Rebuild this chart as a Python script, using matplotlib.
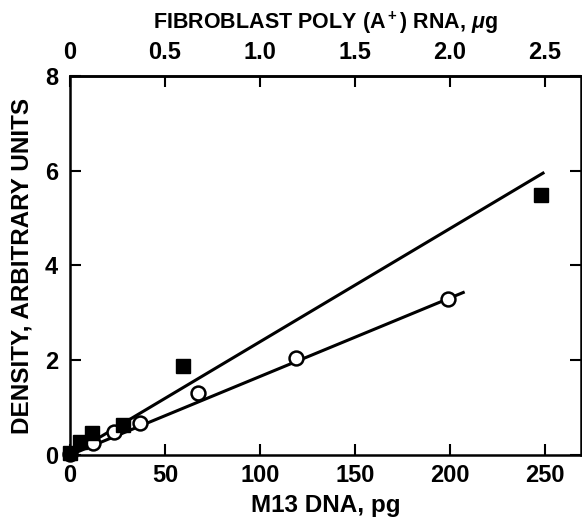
import numpy as np
import matplotlib.pyplot as plt

plt.rcParams['font.family'] = ['Liberation Sans', 'DejaVu Sans']
plt.rcParams['font.weight'] = 'bold'
plt.rcParams['mathtext.fontset'] = 'custom'
plt.rcParams['mathtext.rm'] = 'Liberation Sans:bold'
plt.rcParams['mathtext.it'] = 'Liberation Sans:bold:italic'
plt.rcParams['mathtext.bf'] = 'Liberation Sans:bold'

# M13 DNA (pg) standards - filled squares
dna_x = [0, 5, 11.6, 28, 59.6, 248]
dna_y = [0.05, 0.27, 0.46, 0.63, 1.88, 5.48]
dna_fit_x = [0, 249]
dna_fit_y = [0, 5.95]

# fibroblast poly(A+) RNA - open circles (top axis, in units x100)
rna_x = [0, 12, 23, 37, 67.5, 119, 199]
rna_y = [0.02, 0.25, 0.49, 0.67, 1.3, 2.05, 3.29]
rna_fit_x = [0, 207]
rna_fit_y = [0, 3.43]

bottom_ticks = [0, 50, 100, 150, 200, 250]
top_ticks = [0, 0.5, 1.0, 1.5, 2.0, 2.5]
top_labels = ['0', '0.5', '1.0', '1.5', '2.0', '2.5']
y_ticks = [0, 2, 4, 6, 8]

fig = plt.figure(figsize=(5.82, 5.22), dpi=100)
ax = fig.add_axes([0.1203, 0.1284, 0.8780, 0.726])

ax.plot(dna_fit_x, dna_fit_y, color='black', lw=2.2, zorder=2)
ax.plot(rna_fit_x, rna_fit_y, color='black', lw=2.2, zorder=2)
ax.plot(rna_x, rna_y, 'o', mfc='white', mec='black', mew=1.8, ms=10,
        zorder=3, clip_on=False)
ax.plot(dna_x, dna_y, 's', color='black', ms=9.5, zorder=4, clip_on=False)

ax.set_xlim(0, 269)
ax.set_ylim(0, 8)
ax.set_xticks(bottom_ticks)
ax.set_yticks(y_ticks)
ax.tick_params(direction='in', length=8, width=1.5, labelsize=17, pad=6.5,
               right=True)
ax.tick_params(axis='y', pad=8.5)
for s in ax.spines.values():
    s.set_linewidth(1.8)

top = ax.secondary_xaxis('top', functions=(lambda v: v / 100, lambda v: v * 100))
top.set_xticks(top_ticks)
top.set_xticklabels(top_labels)
top.tick_params(direction='in', length=8, width=1.5, labelsize=17, pad=9)
top.spines['top'].set_linewidth(1.8)
top.set_xlabel('FIBROBLAST POLY (A$^+$) RNA, $\\mu$g', fontsize=15.5,
               fontweight='bold', labelpad=8)

ax.set_xlabel('M13 DNA, pg', fontsize=17.5, fontweight='bold', labelpad=5)
ax.set_ylabel('DENSITY, ARBITRARY UNITS', fontsize=17.5, fontweight='bold',
              labelpad=8)

fig.savefig('out.png', dpi=100)
